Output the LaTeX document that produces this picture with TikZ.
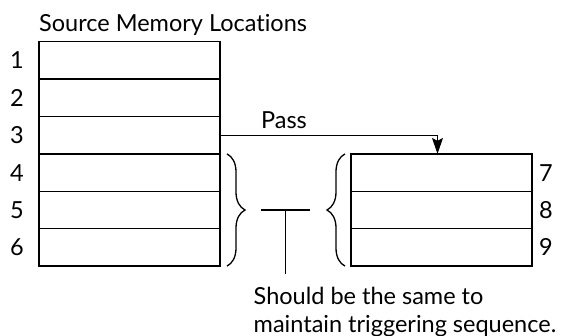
\documentclass[tikz,border=0pt]{standalone}
\usepackage{fontspec}
\setmainfont{Lato}[Ligatures=NoCommon]
\usetikzlibrary{positioning,calc,arrows.meta,decorations.pathreplacing}

\begin{document}
\begin{tikzpicture}[
    x=1pt, y=1pt,
    every node/.style={inner sep=0pt, font=\fontsize{23.5}{27.5}\selectfont},
    cell/.style={rectangle, draw, line width=1.3pt, minimum width=181pt, minimum height=37.4pt, outer sep=0pt},
    note/.style={align=left},
    curly/.style={decorate, decoration={brace, amplitude=18pt}, line width=1.3pt}
]
    \useasboundingbox (0,0) rectangle (563,336);
    % source memory locations
    \node[cell] (m1) at (129.5,275.6) {};
    \node[cell, below=0pt of m1] (m2) {};
    \node[cell, below=0pt of m2] (m3) {};
    \node[cell, below=0pt of m3] (m4) {};
    \node[cell, below=0pt of m4] (m5) {};
    \node[cell, below=0pt of m5] (m6) {};
    \foreach \i in {1,...,6}
        \node[left=15pt of m\i] (n\i) {\i};
    \node[note, above right=6pt and 0pt of m1.north west] (title) {Source Memory Locations};

    % destination
    \node[cell, right=131pt of m4] (r7) {};
    \node[cell, below=0pt of r7] (r8) {};
    \node[cell, below=0pt of r8] (r9) {};
    \foreach \i in {7,8,9}
        \node[right=7pt of r\i] (n\i) {\i};

    % pass
    \coordinate[left=4pt of r7.north] (drop);
    \draw[line width=1.1pt, -{Stealth[length=16pt,width=11pt,inset=3pt]}] (m3.east) -| node[pos=0.147, above=6pt] (pass) {Pass} (drop);

    % braces
    \coordinate (lb1) at ($(m4.north east)+(7pt,0)$);
    \coordinate (lb2) at ($(m6.south east)+(7pt,0)$);
    \coordinate (rb1) at ($(r7.north west)+(-6pt,0)$);
    \coordinate (rb2) at ($(r9.south west)+(-6pt,0)$);
    \draw[curly] (lb1) -- (lb2);
    \draw[curly] (rb2) -- (rb1);

    % tee
    \coordinate (tee) at ($(m5.east)!0.5!(r8.west)$);
    \coordinate[left=24.5pt of tee] (teeL);
    \coordinate[right=24.5pt of tee] (teeR);
    \coordinate[below=64pt of tee] (foot);
    \draw[line width=1.2pt] (teeL) -- (teeR);
    \draw[line width=1.2pt] (tee) -- (foot);
    \node[note, below right=13pt and -32pt of foot] (note) {Should be the same to\\maintain triggering sequence.};
\end{tikzpicture}
\end{document}
